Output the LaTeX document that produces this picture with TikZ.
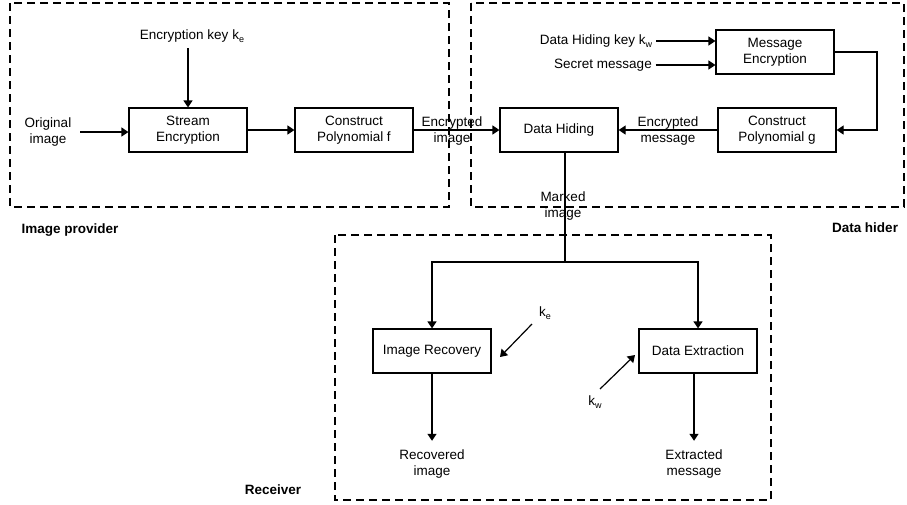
\documentclass[tikz,border=0pt]{standalone}
\usepackage{fontspec}
\setmainfont{Liberation Sans}
\usetikzlibrary{arrows.meta}
\newcommand{\lowidx}[1]{\raisebox{-0.4ex}{\small #1}}

\begin{document}
\begin{tikzpicture}[x=1pt, y=-1pt, >={Triangle[length=7pt,width=9pt]},
    line width=1.2pt, font=\fontsize{13.5}{16}\selectfont,
    box/.style={draw, minimum width=118pt, minimum height=44pt, inner sep=0pt, align=center},
    lbl/.style={align=center},
    party/.style={draw, dash pattern=on 8pt off 5pt, line width=1.2pt}]

    \useasboundingbox (0,0) rectangle (907,504);

    % dashed regions
    \draw [party] (10,3) rectangle (449,207);
    \draw [party] (471,3) rectangle (904,207);
    \draw [party] (335,235) rectangle (771,500);
    \node (p) at (70,230) {\textbf{Image provider}};
    \node (q) at (865,228) {\textbf{Data hider}};
    \node (r) at (273,490) {\textbf{Receiver}};

    \node (a) at (48,132) [lbl] {Original\\image};
    \node (b) at (192,36) {Encryption key k\lowidx{e}};
    \node (c) at (188,130) [box] {Stream\\Encryption};
    \node (d) at (354,130) [box] {Construct\\Polynomial f};
    \node (e) at (452,131) [lbl] {Encrypted\\image};
    \node (f) at (559,130) [box] {Data Hiding};
    \node (g) at (596,41) {Data Hiding key k\lowidx{w}};
    \node (h) at (603,65) {Secret message};
    \node (i) at (775,52) [box] {Message\\Encryption};
    \node (j) at (777,130) [box] {Construct\\Polynomial g};
    \node (k) at (668,131) [lbl] {Encrypted\\message};
    \node (l) at (563,206) [lbl] {Marked\\image};
    \node (m) at (432,351) [box] {Image Recovery};
    \node (n) at (698,351) [box] {Data Extraction};
    \node (o) at (545,313) {k\lowidx{e}};
    \node (s) at (595,402) {k\lowidx{w}};
    \node (t) at (432,464) [lbl] {Recovered\\image};
    \node (u) at (694,464) [lbl] {Extracted\\message};

    \coordinate (turn) at (877,52);
    \coordinate (split) at (565,262);
    \coordinate (ke1) at (532,324);
    \coordinate (ke2) at (500,357);
    \coordinate (kw1) at (600,389);
    \coordinate (kw2) at (635,355);

    \draw [->, shorten <=5pt] (a) -- (a -| c.west);
    \draw [->, shorten <=2pt] (c.north |- b.south) -- (c);
    \draw [->] (c) -- (d);
    \draw [->] (d) -- (f);
    \draw [->] (g) -- (g -| i.west);
    \draw [->] (h) -- (h -| i.west);
    \draw [->] (i) -| (turn) |- (j);
    \draw [->] (j) -- (f);
    \draw (split |- f.south) -- (split);
    \draw [->] (split) -| (m);
    \draw [->] (split) -| (n);
    \draw [->] (ke1) -- (ke2);
    \draw [->] (kw1) -- (kw2);
    \draw [->, shorten >=5pt] (m) -- (t);
    \draw [->, shorten >=5pt] (n.south -| u) -- (u);

\end{tikzpicture}
\end{document}
